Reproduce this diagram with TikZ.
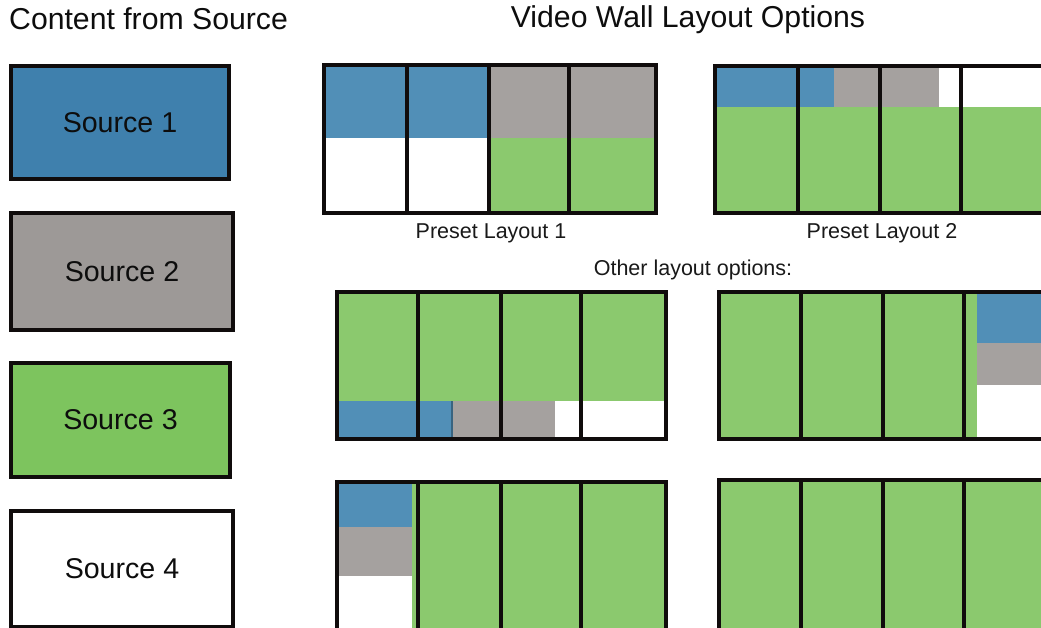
\documentclass[tikz,border=0pt]{standalone}
\usepackage{fontspec}
\setmainfont{Liberation Sans}
\definecolor{srcblue}{HTML}{3F80AD}
\definecolor{srcgray}{HTML}{9D9997}
\definecolor{srcgreen}{HTML}{7DC45E}
\definecolor{wblue}{HTML}{518FB7}
\definecolor{wgray}{HTML}{A5A19F}
\definecolor{wgreen}{HTML}{8BC96E}
\definecolor{ink}{HTML}{100C0C}
\begin{document}
\begin{tikzpicture}[x=1pt,y=-1pt,
  srcbox/.style={draw=ink, line width=3.3pt, inner sep=0pt, anchor=center,
    font=\fontsize{28.6}{30}\selectfont, text=black!95},
  title/.style={inner sep=0pt, font=\fontsize{30.2}{32}\selectfont, text=black!95},
  caption/.style={inner sep=0pt, font=\fontsize{21.5}{24}\selectfont, text=black!90, anchor=base},
  frame/.style={draw=ink, line width=3.4pt},
  divider/.style={draw=ink, line width=3.4pt}]
\useasboundingbox (0,0) rectangle (1041,628);
\clip (0,0) rectangle (1041,628);
\fill[white] (0,0) rectangle (1041,628);

% titles
\node[title, anchor=base west] (t1) at (9,30) {Content from Source};
\node[title, anchor=base] (t2) at (688,28) {Video Wall Layout Options};

% source boxes
\node[srcbox, fill=srcblue, minimum width=218pt, minimum height=113pt] (s1) at (120,122.5) {Source 1};
\node[srcbox, fill=srcgray, minimum width=222pt, minimum height=117pt] (s2) at (122,271.5) {Source 2};
\node[srcbox, fill=srcgreen, minimum width=219pt, minimum height=114pt] (s3) at (120.5,420) {Source 3};
\node[srcbox, fill=white, minimum width=222pt, minimum height=116pt] (s4) at (122,569) {Source 4};

% Layout 1
\fill[wblue] (324,65) rectangle (489,138);
\fill[wgray] (489,65) rectangle (656,138);
\fill[white] (324,138) rectangle (489,213);
\fill[wgreen] (489,138) rectangle (656,213);
\draw[divider] (407,65) -- (407,213) (489,65) -- (489,213) (569,65) -- (569,213);
\draw[frame] (324,65) rectangle (656,213);
\node[caption] (c1) at (491,239) {Preset Layout 1};

% Layout 2
\fill[wgreen] (715,107) rectangle (1050,213);
\fill[wblue] (715,66) rectangle (834,107);
\fill[wgray] (834,66) rectangle (939,107);
\fill[white] (939,66) rectangle (1050,107);
\draw[divider] (798,66) -- (798,213) (880,66) -- (880,213) (961,66) -- (961,213);
\draw[frame] (715,66) rectangle (1060,213);
\node[caption] (c2) at (882,239) {Preset Layout 2};

\node[caption] (c3) at (693,276) {Other layout options:};

% Layout 3
\fill[wgreen] (337,292) rectangle (666,401);
\fill[wblue] (337,401) rectangle (452,439);
\fill[wgray] (452,401) rectangle (555,439);
\fill[white] (555,401) rectangle (666,439);
\draw[line width=1.5pt, color=wblue!70!black] (452,401) -- (452,439);
\draw[divider] (418,292) -- (418,439) (501,292) -- (501,439) (581,292) -- (581,439);
\draw[frame] (337,292) rectangle (666,439);

% Layout 4
\fill[wgreen] (719,292) rectangle (977,439);
\fill[wblue] (977,292) rectangle (1050,343);
\fill[wgray] (977,343) rectangle (1050,385);
\fill[white] (977,385) rectangle (1050,439);
\draw[divider] (801,292) -- (801,439) (883,292) -- (883,439) (964,292) -- (964,439);
\draw[frame] (719,292) rectangle (1060,439);

% Layout 5
\fill[wgreen] (337,482) rectangle (666,640);
\fill[wblue] (337,482) rectangle (412,527);
\fill[wgray] (337,527) rectangle (412,576);
\fill[white] (337,576) rectangle (412,640);
\draw[divider] (418,482) -- (418,640) (501,482) -- (501,640) (581,482) -- (581,640);
\draw[frame] (337,482) rectangle (666,650);

% Layout 6
\fill[wgreen] (719,480) rectangle (1050,640);
\draw[divider] (801,480) -- (801,640) (883,480) -- (883,640) (964,480) -- (964,640);
\draw[frame] (719,480) rectangle (1060,650);
\end{tikzpicture}
\end{document}
